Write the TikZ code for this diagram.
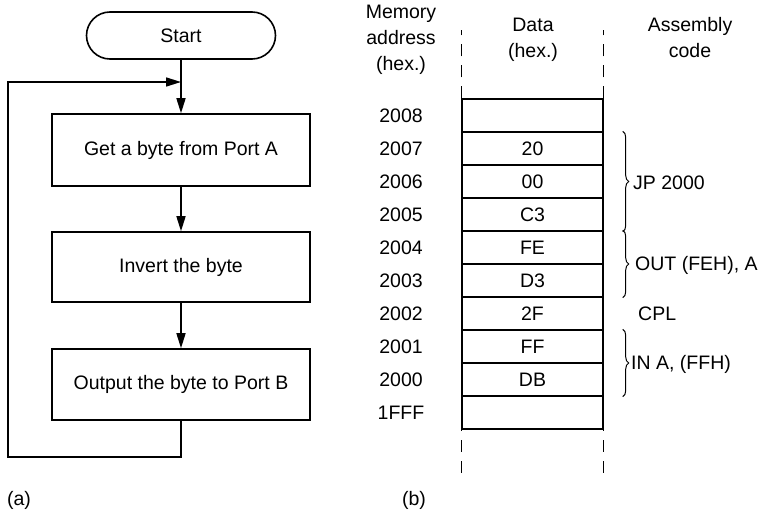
\documentclass[tikz,border=0pt]{standalone}
\usepackage{fontspec}
\setmainfont{Liberation Sans}
\usetikzlibrary{arrows.meta,decorations.pathreplacing,calc}
\begin{document}
\begin{tikzpicture}[x=1pt,y=-1pt,
  every node/.style={font=\fontsize{19.5}{26}\selectfont, inner sep=0pt},
  flow/.style={draw, line width=1.6pt},
  fbox/.style={flow, minimum width=258pt},
  arr/.style={line width=1.6pt, -{Triangle[length=15pt,width=9pt]}},
  cell/.style={draw, line width=1.4pt, minimum width=141pt, minimum height=33pt},
  colline/.style={line width=1.2pt, dash pattern=on 12pt off 9pt},
  brc/.style={line width=1pt, decorate, decoration={brace, amplitude=6pt}},
  addr/.style={anchor=center},
  code/.style={anchor=west}]
\useasboundingbox (0,0) rectangle (767,514);
% ---------- (a) flowchart ----------
\node[flow, rounded corners=23.5pt, minimum width=189pt, minimum height=47pt] (start) at (181,35.5) {Start};
\node[fbox, minimum height=72pt] (b1) at (181,150) {Get a byte from Port A};
\node[fbox, minimum height=70pt] (b2) at (181,267) {Invert the byte};
\node[fbox, minimum height=71pt] (b3) at (181,384.5) {Output the byte to Port B};
\coordinate (j) at (181,82);
\coordinate (lc) at (8,457);
\draw[arr] (start.south) -- (b1.north);
\draw[arr] (b1.south) -- (b2.north);
\draw[arr] (b2.south) -- (b3.north);
\draw[arr] (b3.south) |- (lc) |- (j);
\node (la) at (19,500) {(a)};
% ---------- (b) memory map ----------
\node[align=center] (h1) at (401,40) {Memory\\address\\(hex.)};
\node[align=center] (h2) at (533,40) {Data\\(hex.)};
\node[align=center] (h3) at (690,38) {Assembly\\code};
\node[cell] (c0) at (532.5,115.5) {};
\node[cell] (c1) at (532.5,148.5) {20};
\node[cell] (c2) at (532.5,181.5) {00};
\node[cell] (c3) at (532.5,214.5) {C3};
\node[cell] (c4) at (532.5,247.5) {FE};
\node[cell] (c5) at (532.5,280.5) {D3};
\node[cell] (c6) at (532.5,313.5) {2F};
\node[cell] (c7) at (532.5,346.5) {FF};
\node[cell] (c8) at (532.5,379.5) {DB};
\node[cell] (c9) at (532.5,412.5) {};
\node[addr] (a0) at (401,116) {2008};
\node[addr] (a1) at (401,149) {2007};
\node[addr] (a2) at (401,182) {2006};
\node[addr] (a3) at (401,215) {2005};
\node[addr] (a4) at (401,248) {2004};
\node[addr] (a5) at (401,281) {2003};
\node[addr] (a6) at (401,314) {2002};
\node[addr] (a7) at (401,347) {2001};
\node[addr] (a8) at (401,380) {2000};
\node[addr] (a9) at (401,413) {1FFF};
\draw[colline] (c0.north west) -- ++(0,-68);
\draw[colline] (c0.north east) -- ++(0,-68);
\draw[colline] ([yshift=-43pt]c9.south west) -- (c9.south west);
\draw[colline] ([yshift=-43pt]c9.south east) -- (c9.south east);
\draw[brc] ([xshift=19pt]c1.north east) -- ([xshift=19pt]c3.south east);
\draw[brc] ([xshift=19pt]c4.north east) -- ([xshift=19pt]c5.south east);
\draw[brc] ([xshift=19pt]c7.north east) -- ([xshift=19pt]c8.south east);
\node[code] (t1) at (633,183) {JP 2000};
\node[code] (t2) at (635,265) {OUT (FEH), A};
\node[code] (t3) at (638,314) {CPL};
\node[code] (t4) at (631,364) {IN A, (FFH)};
\node (lb) at (414,500) {(b)};
\end{tikzpicture}
\end{document}
